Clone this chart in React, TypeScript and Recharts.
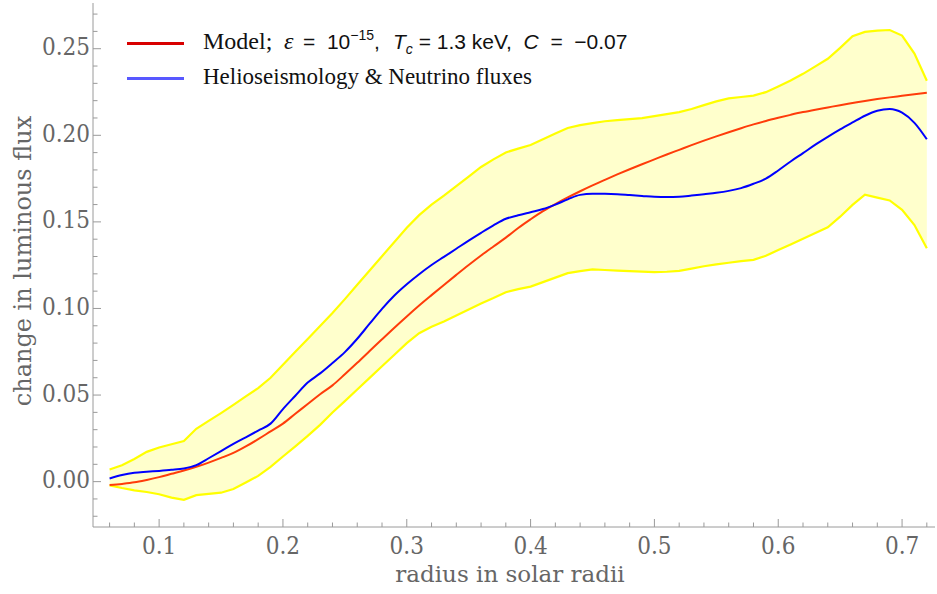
import { ComposedChart, Area, Line, XAxis, YAxis } from "recharts";

// ── Data ──────────────────────────────────────────────────────────────────────

const radius = [
  0.06, 0.07, 0.08, 0.09, 0.1, 0.11, 0.12, 0.13, 0.14, 0.15, 0.16, 0.17, 0.18,
  0.19, 0.2, 0.21, 0.22, 0.23, 0.24, 0.25, 0.26, 0.27, 0.28, 0.29, 0.3, 0.31,
  0.32, 0.33, 0.34, 0.35, 0.36, 0.37, 0.38, 0.39, 0.4, 0.41, 0.42, 0.43, 0.44,
  0.45, 0.46, 0.47, 0.48, 0.49, 0.5, 0.51, 0.52, 0.53, 0.54, 0.55, 0.56, 0.57,
  0.58, 0.59, 0.6, 0.61, 0.62, 0.63, 0.64, 0.65, 0.66, 0.67, 0.68, 0.69, 0.7,
  0.71, 0.72,
];

const upperBound = [
  0.007, 0.0095, 0.0131, 0.0172, 0.0197, 0.0216, 0.0234, 0.0305, 0.0351, 0.0396,
  0.0443, 0.0492, 0.054, 0.06, 0.0675, 0.075, 0.0824, 0.0899, 0.0974, 0.1054,
  0.1137, 0.1219, 0.1302, 0.1384, 0.1466, 0.1539, 0.16, 0.1651, 0.1706, 0.1761,
  0.1817, 0.1861, 0.1901, 0.1923, 0.1944, 0.1977, 0.201, 0.2042, 0.2059, 0.207,
  0.2081, 0.2088, 0.2093, 0.2099, 0.2111, 0.2122, 0.2134, 0.2152, 0.2174, 0.2196,
  0.2213, 0.2221, 0.2229, 0.2249, 0.2282, 0.2316, 0.2355, 0.2398, 0.2442, 0.2505,
  0.2572, 0.2597, 0.2605, 0.2608, 0.2576, 0.2472, 0.2315,
];

const lowerBound = [
  -0.0022, -0.0037, -0.005, -0.006, -0.0073, -0.0092, -0.0105, -0.0078, -0.0071,
  -0.0064, -0.0043, -0.0005, 0.0033, 0.0085, 0.0145, 0.0204, 0.0264, 0.0328,
  0.0399, 0.0465, 0.0532, 0.0599, 0.0666, 0.0733, 0.08, 0.0857, 0.0894, 0.0925,
  0.096, 0.0994, 0.1028, 0.106, 0.1094, 0.1112, 0.1126, 0.1152, 0.1178, 0.1204,
  0.1216, 0.1226, 0.1222, 0.1219, 0.1216, 0.1213, 0.121, 0.1212, 0.1217, 0.123,
  0.1244, 0.1255, 0.1264, 0.1273, 0.1281, 0.1304, 0.1337, 0.137, 0.1403, 0.1436,
  0.1469, 0.153, 0.1598, 0.1657, 0.164, 0.1624, 0.157, 0.1482, 0.1348,
];

const model = [
  -0.002, -0.0013, -0.0004, 0.001, 0.0026, 0.0045, 0.0064, 0.0086, 0.011, 0.0137,
  0.0166, 0.0203, 0.0245, 0.029, 0.0335, 0.0392, 0.0448, 0.0505, 0.0556, 0.062,
  0.0686, 0.0754, 0.0822, 0.0889, 0.0954, 0.1017, 0.1077, 0.1136, 0.1194, 0.1251,
  0.1306, 0.1358, 0.1409, 0.1465, 0.1515, 0.1562, 0.1603, 0.1641, 0.1677, 0.1711,
  0.1743, 0.1774, 0.1804, 0.1833, 0.1861, 0.1889, 0.1916, 0.1943, 0.1969, 0.1994,
  0.2018, 0.2041, 0.2063, 0.2083, 0.2101, 0.2118, 0.2134, 0.2148, 0.2161, 0.2174,
  0.2186, 0.2198, 0.2209, 0.2219, 0.2228, 0.2237, 0.2246,
];

const helio = [
  0.0018, 0.0038, 0.0051, 0.0057, 0.0062, 0.0068, 0.0076, 0.0095, 0.0135, 0.0176,
  0.0218, 0.0256, 0.0295, 0.0335, 0.0419, 0.0496, 0.0572, 0.0625, 0.0685, 0.0748,
  0.0825, 0.0912, 0.0998, 0.1075, 0.114, 0.1198, 0.1251, 0.1298, 0.1345, 0.1392,
  0.1437, 0.148, 0.1518, 0.1538, 0.1556, 0.1574, 0.16, 0.163, 0.1656, 0.1662,
  0.1662, 0.166, 0.1655, 0.165, 0.1645, 0.1643, 0.1645, 0.1652, 0.166, 0.1668,
  0.1679, 0.1695, 0.172, 0.175, 0.1797, 0.1849, 0.1897, 0.1946, 0.1991, 0.2034,
  0.2074, 0.2113, 0.2142, 0.2152, 0.2131, 0.2072, 0.1977,
];

const xTicks = [
  0.06, 0.08, 0.1, 0.12, 0.14, 0.16, 0.18, 0.2, 0.22, 0.24, 0.26, 0.28, 0.3, 0.32,
  0.34, 0.36, 0.38, 0.4, 0.42, 0.44, 0.46, 0.48, 0.5, 0.52, 0.54, 0.56, 0.58, 0.6,
  0.62, 0.64, 0.66, 0.68, 0.7, 0.72,
];
const xLabels = [0.1, 0.2, 0.3, 0.4, 0.5, 0.6, 0.7];

const yTicks = [
  -0.02, -0.01, 0, 0.01, 0.02, 0.03, 0.04, 0.05, 0.06, 0.07, 0.08, 0.09, 0.1,
  0.11, 0.12, 0.13, 0.14, 0.15, 0.16, 0.17, 0.18, 0.19, 0.2, 0.21, 0.22, 0.23,
  0.24, 0.25, 0.26, 0.27,
];
const yLabels = [0, 0.05, 0.1, 0.15, 0.2, 0.25];

const X_DOMAIN = [0.0466, 0.7266];
const Y_DOMAIN = [-0.0262, 0.2764];

const rows = radius.map((r, i) => ({
  r,
  band: [lowerBound[i], upperBound[i]],
  lo: lowerBound[i],
  hi: upperBound[i],
  model: model[i],
  helio: helio[i],
}));

// ── Styling ──────────────────────────────────────────────────────────────────

const FRAME = "#9a9a9a";
const LABEL = "#666";
const SERIF = "'DejaVu Serif', serif";
const TIMES = "'Liberation Serif', 'Times New Roman', serif";
const SANS = "'Liberation Sans', Arial, sans-serif";
const MAJOR = 8;
const MINOR = 4.5;

const isLabel = (v: number, list: number[]) => list.some((l) => Math.abs(l - v) < 1e-9);

// ── Frame ticks (inward, Mathematica style) ────────────────────────────────────

const tickText = { fill: LABEL, fontSize: 24, fontFamily: SERIF, fontStretch: "condensed" };

function BottomTick({ x, y, payload }: any) {
  const major = isLabel(payload.value, xLabels);
  return (
    <g>
      <line x1={x} x2={x} y1={y} y2={y - (major ? MAJOR : MINOR)} stroke={FRAME} />
      {major && (
        <text x={x} y={y + 27} textAnchor="middle" style={tickText}>
          {payload.value.toFixed(1)}
        </text>
      )}
    </g>
  );
}

function TopTick({ x, y, payload }: any) {
  const major = isLabel(payload.value, xLabels);
  return <line x1={x} x2={x} y1={y} y2={y + (major ? MAJOR : MINOR)} stroke={FRAME} />;
}

function LeftTick({ x, y, payload }: any) {
  const major = isLabel(payload.value, yLabels);
  return (
    <g>
      <line x1={x} x2={x + (major ? MAJOR : MINOR)} y1={y} y2={y} stroke={FRAME} />
      {major && (
        <text x={x - 3} y={y + 6.5} textAnchor="end" style={tickText}>
          {payload.value.toFixed(2)}
        </text>
      )}
    </g>
  );
}

function RightTick({ x, y, payload }: any) {
  const major = isLabel(payload.value, yLabels);
  return <line x1={x} x2={x - (major ? MAJOR : MINOR)} y1={y} y2={y} stroke={FRAME} />;
}

// ── Legend + axis titles overlay ──────────────────────────────────────────────

function Overlay() {
  return (
    <svg width={937} height={594} style={{ position: "absolute", left: 0, top: 0, pointerEvents: "none" }}>
      {/* axis titles */}
      <text x={510} y={582} textAnchor="middle" fill={LABEL} fontSize={23} fontFamily={SERIF}>
        radius in solar radii
      </text>
      <text transform="translate(31,261) rotate(-90)" textAnchor="middle" fill={LABEL} fontSize={24} fontFamily={SERIF}>
        change in luminous flux
      </text>

      {/* legend */}
      <line x1={127} x2={184} y1={43.5} y2={43.5} stroke="#d80000" strokeWidth={3} />
      <line x1={127} x2={184} y1={78.5} y2={78.5} stroke="#5858ff" strokeWidth={3} />
      <text y={49} fill="#111" style={{ whiteSpace: "pre" }}>
        <tspan x={203} fontFamily={TIMES} fontSize={24}>Model;</tspan>
        <tspan x={284} fontFamily={TIMES} fontSize={24} fontStyle="italic">ε</tspan>
        <tspan x={303} fontFamily={SANS} fontSize={21}>=  10</tspan>
        <tspan dy={-9} fontFamily={SANS} fontSize={14}>−15</tspan>
        <tspan dy={9} fontFamily={SANS} fontSize={21}>,</tspan>
        <tspan x={393} fontFamily={SANS} fontSize={21} fontStyle="italic">T</tspan>
        <tspan dy={5} fontFamily={SANS} fontSize={14} fontStyle="italic">c</tspan>
        <tspan dy={-5} fontFamily={SANS} fontSize={21}> = 1.3 keV,  </tspan>
        <tspan fontFamily={SANS} fontSize={21} fontStyle="italic">C</tspan>
        <tspan fontFamily={SANS} fontSize={21}>  =  −0.07</tspan>
      </text>
      <text x={203} y={84} fill="#111" fontFamily={TIMES} fontSize={23}>
        Helioseismology &amp; Neutrino fluxes
      </text>
    </svg>
  );
}

// ── Chart ─────────────────────────────────────────────────────────────────────

export default function App() {
  return (
    <div style={{ position: "absolute", left: 0, top: 0, width: 937, height: 594, background: "#fff" }}>
      <ComposedChart width={937} height={594} data={rows} margin={{ top: 3, right: 2, left: 0, bottom: 0 }}>
        <XAxis
          xAxisId="b"
          dataKey="r"
          type="number"
          domain={X_DOMAIN}
          allowDataOverflow
          ticks={xTicks}
          interval={0}
          tick={<BottomTick />}
          tickLine={false}
          tickSize={0}
          tickMargin={0}
          height={67}
          axisLine={{ stroke: FRAME }}
        />
        <XAxis
          xAxisId="t"
          orientation="top"
          dataKey="r"
          type="number"
          domain={X_DOMAIN}
          allowDataOverflow
          ticks={xTicks}
          interval={0}
          tick={<TopTick />}
          tickLine={false}
          tickSize={0}
          tickMargin={0}
          height={0}
          axisLine={{ stroke: FRAME }}
        />
        <YAxis
          yAxisId="l"
          type="number"
          domain={Y_DOMAIN}
          allowDataOverflow
          ticks={yTicks}
          interval={0}
          tick={<LeftTick />}
          tickLine={false}
          tickSize={0}
          tickMargin={0}
          width={93}
          axisLine={{ stroke: FRAME }}
        />
        <YAxis
          yAxisId="r"
          orientation="right"
          type="number"
          domain={Y_DOMAIN}
          allowDataOverflow
          ticks={yTicks}
          interval={0}
          tick={<RightTick />}
          tickLine={false}
          tickSize={0}
          tickMargin={0}
          width={0}
          axisLine={{ stroke: FRAME }}
        />

        {/* uncertainty band */}
        <Area xAxisId="b" yAxisId="l" dataKey="band" type="linear" fill="#ffffcc" fillOpacity={1} stroke="none" isAnimationActive={false} />
        <Line xAxisId="b" yAxisId="l" dataKey="hi" type="linear" stroke="#ffff00" strokeWidth={2.2} dot={false} isAnimationActive={false} />
        <Line xAxisId="b" yAxisId="l" dataKey="lo" type="linear" stroke="#ffff00" strokeWidth={2.2} dot={false} isAnimationActive={false} />

        {/* curves */}
        <Line xAxisId="b" yAxisId="l" dataKey="model" type="monotone" stroke="#ff3c0a" strokeWidth={2} dot={false} isAnimationActive={false} />
        <Line xAxisId="b" yAxisId="l" dataKey="helio" type="monotone" stroke="#0000ff" strokeWidth={2} dot={false} isAnimationActive={false} />
      </ComposedChart>
      <Overlay />
    </div>
  );
}
